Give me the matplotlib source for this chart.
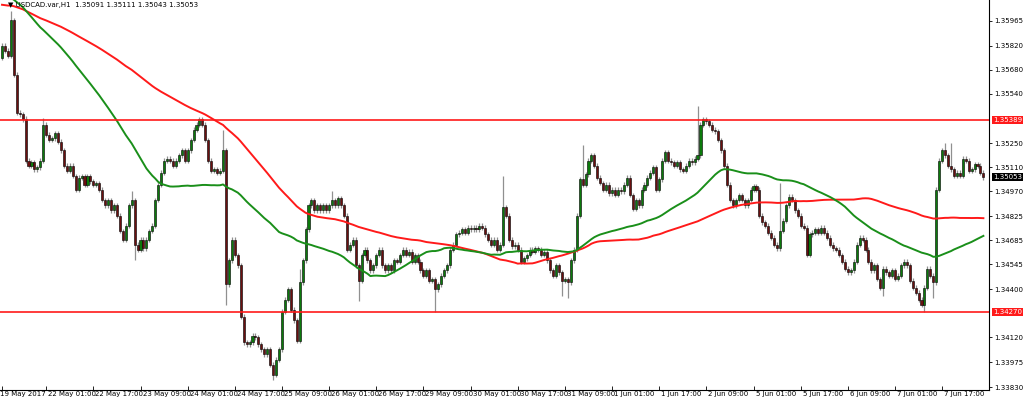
import numpy as np
import pandas as pd
import matplotlib
matplotlib.use("Agg")
import matplotlib.pyplot as plt
import matplotlib.transforms as mtrans

closes = [
1.3582,1.3579,1.3576,1.3597,1.3565,1.3543,1.3542,1.3539,1.3515,1.3512,
1.3514,1.3510,1.3511,1.3515,1.3536,1.3530,1.3527,1.3528,1.3531,1.3526,
1.3521,1.3512,1.3509,1.3512,1.3506,1.3498,1.3505,1.3506,1.3501,1.3506,
1.3503,1.3501,1.3502,1.3498,1.3492,1.3489,1.3492,1.3486,1.3489,1.3483,
1.3474,1.3469,1.3477,1.3489,1.3492,1.3466,1.3463,1.3469,1.3464,1.3469,
1.3474,1.3477,1.3492,1.3501,1.3508,1.3515,1.3516,1.3515,1.3512,1.3515,
1.3518,1.3521,1.3515,1.3521,1.3527,1.3533,1.3536,1.3539,1.3536,1.3527,
1.3515,1.3509,1.3510,1.3508,1.3509,1.3521,1.3443,1.3457,1.3469,1.3460,
1.3454,1.3424,1.3409,1.3408,1.3409,1.3413,1.3412,1.3408,1.3405,1.3402,
1.3405,1.3396,1.3390,1.3399,1.3405,1.3427,1.3434,1.3440,1.3428,1.3422,
1.3410,1.3444,1.3457,1.3475,1.3489,1.3492,1.3486,1.3489,1.3486,1.3489,
1.3486,1.3489,1.3492,1.3489,1.3493,1.3489,1.3483,1.3463,1.3466,1.3469,
1.3454,1.3445,1.3460,1.3463,1.3457,1.3451,1.3454,1.3460,1.3463,1.3454,
1.3451,1.3454,1.3451,1.3457,1.3456,1.3460,1.3463,1.3460,1.3462,1.3456,
1.3460,1.3456,1.3451,1.3448,1.3451,1.3445,1.3446,1.3440,1.3443,1.3448,
1.3451,1.3454,1.3463,1.3466,1.3472,1.3473,1.3475,1.3473,1.3476,1.3475,
1.3476,1.3475,1.3477,1.3476,1.3472,1.3469,1.3466,1.3469,1.3463,1.3466,
1.3488,1.3483,1.3469,1.3465,1.3466,1.3463,1.3456,1.3458,1.3460,1.3463,
1.3462,1.3464,1.3463,1.3460,1.3462,1.3457,1.3451,1.3448,1.3454,1.3450,
1.3445,1.3446,1.3444,1.3457,1.3463,1.3483,1.3504,1.3501,1.3507,1.3515,
1.3518,1.3512,1.3505,1.3502,1.3498,1.3501,1.3496,1.3498,1.3495,1.3498,
1.3497,1.3501,1.3505,1.3495,1.3487,1.3492,1.3489,1.3498,1.3501,1.3505,
1.3508,1.3511,1.3498,1.3504,1.3515,1.3520,1.3515,1.3514,1.3512,1.3514,
1.3510,1.3509,1.3512,1.3515,1.3514,1.3516,1.3518,1.3536,1.3539,1.3538,
1.3536,1.3533,1.3532,1.3527,1.3521,1.3512,1.3501,1.3492,1.3489,1.3492,
1.3495,1.3492,1.3489,1.3492,1.3498,1.3500,1.3498,1.3483,1.3479,1.3477,
1.3473,1.3470,1.3466,1.3464,1.3474,1.3480,1.3489,1.3494,1.3492,1.3486,
1.3483,1.3477,1.3476,1.3460,1.3472,1.3473,1.3475,1.3473,1.3476,1.3473,
1.3470,1.3466,1.3464,1.3463,1.3460,1.3456,1.3452,1.3450,1.3451,1.3456,
1.3466,1.3470,1.3469,1.3463,1.3456,1.3451,1.3454,1.3446,1.3441,1.3452,
1.3450,1.3448,1.3451,1.3446,1.3448,1.3454,1.3456,1.3454,1.3445,1.3441,
1.3438,1.3434,1.3431,1.3441,1.3452,1.3448,1.3444,1.3498,1.3515,1.3521,
1.3518,1.3512,1.3510,1.3506,1.3508,1.3506,1.3516,1.3515,1.3509,1.3510,
1.3513,1.3512,1.3508,1.35053]
first_open = 1.3575
# notable wick extremes (bar index -> price)
special_highs = {3: 1.3602, 8: 1.3541, 14: 1.3540, 44: 1.3497, 75: 1.3533, 101: 1.3452,
                 112: 1.3497, 170: 1.3506, 197: 1.3524, 236: 1.3547, 239: 1.3540,
                 320: 1.3525, 322: 1.3525, 264: 1.3502}
special_lows = {45: 1.3457, 76: 1.3431, 92: 1.3387, 100: 1.3427, 121: 1.3433, 147: 1.3427,
                190: 1.3436, 192: 1.3435, 313: 1.3427, 316: 1.3435, 299: 1.3436}
# hidden history before the first visible bar (feeds the moving averages)
history_old = [1.3600] * 50
history_recent = [1.3612] * 50

support = 1.34270
resistance = 1.35389
last_price = 1.35053
ytick_vals = [1.35965, 1.35820, 1.35680, 1.35540, 1.35250, 1.35110, 1.34970,
              1.34825, 1.34685, 1.34545, 1.34400, 1.34120, 1.33975, 1.33830]
xtick_labels = ["22 May 01:00", "22 May 17:00", "23 May 09:00", "24 May 01:00", "24 May 17:00",
                "25 May 09:00", "26 May 01:00", "26 May 17:00", "29 May 09:00", "30 May 01:00",
                "30 May 17:00", "31 May 09:00", "1 Jun 01:00", "1 Jun 17:00", "2 Jun 09:00",
                "5 Jun 01:00", "5 Jun 17:00", "6 Jun 09:00", "7 Jun 01:00", "7 Jun 17:00"]

n = len(closes)
c = np.array(closes)
o = np.concatenate([[first_open], c[:-1]])
wick = 0.00014
h = np.maximum(o, c) + wick
l = np.minimum(o, c) - wick
for k, v in special_highs.items():
    h[k] = max(h[k], v)
for k, v in special_lows.items():
    l[k] = min(l[k], v)

full = pd.Series(history_old + history_recent + closes)
ma_fast = full.rolling(50).mean().values[-n:]
ma_slow = full.rolling(100).mean().values[-n:]

FS = 5.0
fig = plt.figure(figsize=(10.24, 4.01), dpi=100)
ax = fig.add_axes([0.0, 1 - 390 / 401, 989 / 1024, 390 / 401])
x = np.arange(n)
ax.vlines(x, l, h, color="#909090", lw=0.9, zorder=1)
up = c >= o
body_bot = np.minimum(o, c)
body_h = np.maximum(np.abs(c - o), 0.000015)
ax.bar(x[up], body_h[up], bottom=body_bot[up], width=0.7, color="#0b7a0b",
       edgecolor="black", linewidth=0.4, zorder=2)
ax.bar(x[~up], body_h[~up], bottom=body_bot[~up], width=0.7, color="#6b0f0f",
       edgecolor="black", linewidth=0.4, zorder=2)
ax.plot(x, ma_slow, color="#ff1a1a", lw=1.4, zorder=3)
ax.plot(x, ma_fast, color="#1a8f1a", lw=1.4, zorder=3)
ax.axhline(resistance, color="#ff1a1a", lw=1.2, zorder=4)
ax.axhline(support, color="#ff1a1a", lw=1.2, zorder=4)

ax.set_xlim(-0.68, 334.9)
ax.set_ylim(1.33813, 1.36086)
for s in ["top", "left"]:
    ax.spines[s].set_visible(False)
ax.spines["right"].set_linewidth(0.8)
ax.spines["bottom"].set_linewidth(0.8)

ax.yaxis.tick_right()
ax.set_yticks(ytick_vals)
ax.set_yticklabels([f"{v:.5f}" for v in ytick_vals], fontsize=FS)
ax.tick_params(axis="y", length=2.5, pad=1.5, width=0.6)

tick_pos = [15 + 16 * k for k in range(len(xtick_labels))]
ax.set_xticks([0] + tick_pos)
ax.set_xticklabels(["19 May 2017"] + xtick_labels, fontsize=FS, ha="left")
ax.tick_params(axis="x", length=3, pad=1, width=0.6, direction="in")
offset = mtrans.ScaledTranslation(2 / 100, 0, fig.dpi_scale_trans)
for lab in ax.get_xticklabels()[1:]:
    lab.set_transform(lab.get_transform() + offset)
ax.get_xticklabels()[0].set_transform(ax.get_xticklabels()[0].get_transform()
                                      + mtrans.ScaledTranslation(-2 / 100, 0, fig.dpi_scale_trans))

for val, bg in [(resistance, "#ff1a1a"), (support, "#ff1a1a"), (last_price, "black")]:
    ax.text(1.004, val, f"{val:.5f}", transform=ax.get_yaxis_transform(), fontsize=FS,
            color="white", va="center", ha="left",
            bbox=dict(boxstyle="square,pad=0.15", fc=bg, ec="none"), zorder=5, clip_on=False)

fig.text(0.008, 0.995, "\u25BC USDCAD.var,H1  1.35091 1.35111 1.35043 1.35053", fontsize=FS,
         va="top", ha="left", color="black")

fig.savefig("out.png", dpi=100, facecolor="white")
